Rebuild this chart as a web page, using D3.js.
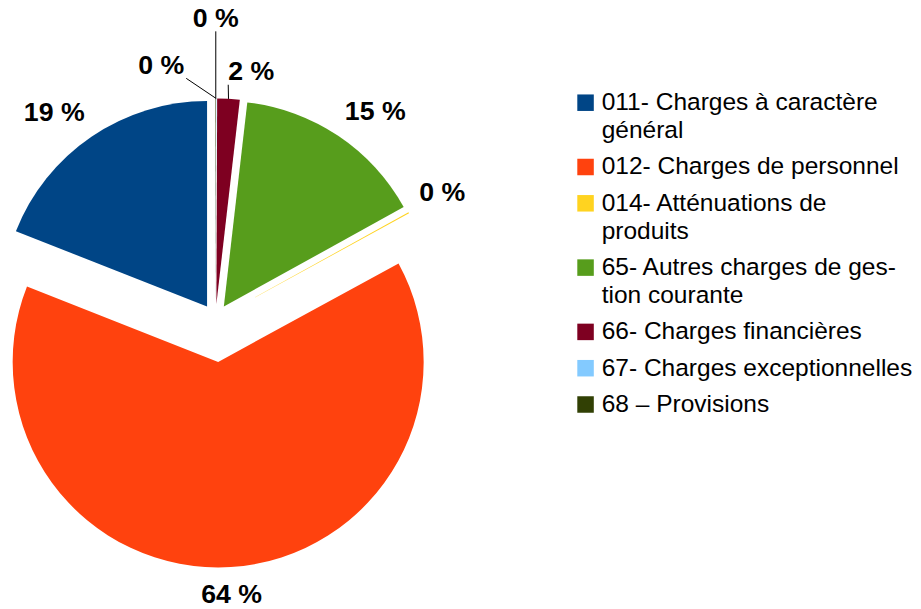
<!DOCTYPE html>
<html>
<head>
<meta charset="utf-8">
<script src="https://cdn.jsdelivr.net/npm/d3@7"></script>
<style>
  body { margin: 0; background: #fff; }
  svg { display: block; }
</style>
</head>
<body>
<svg id="chart" width="921" height="609"></svg>
<script>
// chart data
const categories = [
    '011- Charges à caractère général',
    '012- Charges de personnel',
    '014- Atténuations de produits',
    '65- Autres charges de gestion courante',
    '66- Charges financières',
    '67- Charges exceptionnelles',
    '68 – Provisions'
]
const shares = [19.02, 63.93, 0.09, 15.14, 1.76, 0.02, 0.04]
const legendLines = [
    ['011- Charges à caractère', 'général'],
    ['012- Charges de personnel'],
    ['014- Atténuations de', 'produits'],
    ['65- Autres charges de ges-', 'tion courante'],
    ['66- Charges financières'],
    ['67- Charges exceptionnelles'],
    ['68 – Provisions']
]
const colors = ['#004586', '#ff420e', '#ffd320', '#579d1c', '#7e0021', '#83caff', '#314004']

// layout
const cx = 215.5, cy = 319, radius = 205.5
const explode = [15, 43, 15, 15, 15, 15, 15]
const labelSize = 26.7, legendSize = 24.5
const labelGap = 12
// crowded labels near the top get moved and get a leader line
const nudges = {
    4: {dx: -1, dy: -1, anchor: 'start'},
    5: {dx: -32, dy: -7, anchor: 'end'},
    6: {dx: 0, dy: -54, anchor: 'middle'}
}

let svg = d3.select('#chart')

let pie = d3.pie()
    .sort(null)
    .value(d => d)
    .startAngle(0)
    .endAngle(-2 * Math.PI)

let arcGen = d3.arc()
    .innerRadius(0)
    .outerRadius(radius)

let total = d3.sum(shares)
let fmt = v => d3.format('.0f')(v / total * 100) + ' %'

let slices = pie(shares).map((s, i) => {
    let mid = (s.startAngle + s.endAngle) / 2
    let dir = [Math.sin(mid), -Math.cos(mid)]
    let ox = cx + explode[i] * dir[0]
    let oy = cy + explode[i] * dir[1]
    return {arc: s, i: i, dir: dir, ox: ox, oy: oy}
})

let pieG = svg.append('g')

pieG.selectAll('path')
    .data(slices)
    .join('path')
    .attr('transform', d => `translate(${d.ox},${d.oy})`)
    .attr('d', d => arcGen(d.arc))
    .attr('fill', d => colors[d.i])

// percentage labels
let labelG = svg.append('g')
    .attr('font-family', '"Liberation Sans", Arial, sans-serif')
    .attr('font-weight', 'bold')
    .attr('font-size', labelSize)
    .attr('fill', '#000')

slices.forEach(d => {
    let ax = d.ox + (radius + labelGap) * d.dir[0]
    let ay = d.oy + (radius + labelGap) * d.dir[1]
    let anchor = Math.abs(d.dir[0]) < 0.3 ? 'middle' : (d.dir[0] > 0 ? 'start' : 'end')
    let base
    if (d.dir[1] < -0.3) base = ay - 0.212 * labelSize
    else if (d.dir[1] > 0.3) base = ay + 0.905 * labelSize
    else base = ay + 0.36 * labelSize

    let n = nudges[d.i]
    if (n) {
        ax += n.dx
        base += n.dy
        anchor = n.anchor
        let px = d.ox + radius * d.dir[0]
        let py = d.oy + radius * d.dir[1]
        let lx = anchor === 'end' ? ax + 2 : ax
        labelG.append('line')
            .attr('x1', px).attr('y1', py)
            .attr('x2', lx).attr('y2', base + 4.5)
            .attr('stroke', '#000')
            .attr('stroke-width', 1)
    }

    labelG.append('text')
        .attr('x', ax)
        .attr('y', base)
        .attr('text-anchor', anchor)
        .text(fmt(shares[d.i]))
})

// legend
const legX = 577.3, legY = 102.7, sw = 16.5, lineH = 28, entryGap = 8.3

let legend = svg.append('g')
    .attr('font-family', '"Liberation Sans", Arial, sans-serif')
    .attr('font-size', legendSize)
    .attr('fill', '#000')

let y = legY
categories.forEach((c, i) => {
    let g = legend.append('g')
    g.append('rect')
        .attr('x', legX)
        .attr('y', y - sw / 2)
        .attr('width', sw)
        .attr('height', sw)
        .attr('fill', colors[i])
    legendLines[i].forEach((t, j) => {
        g.append('text')
            .attr('x', legX + 24.4)
            .attr('y', y + 7.3 + j * lineH)
            .text(t)
    })
    y += legendLines[i].length * lineH + entryGap
})
</script>
</body>
</html>
